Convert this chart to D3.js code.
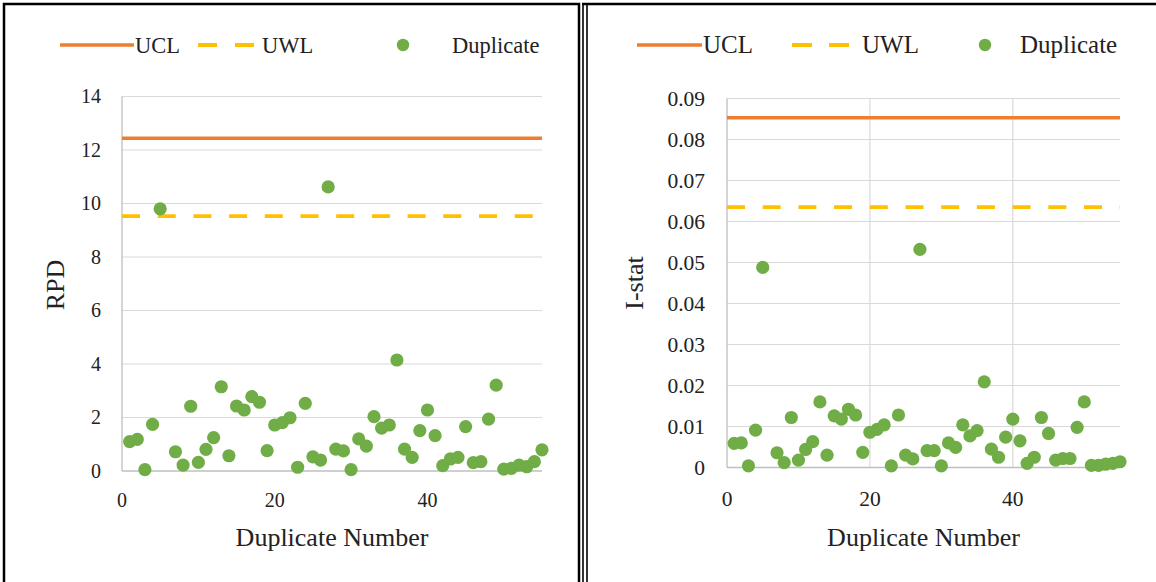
<!DOCTYPE html>
<html>
<head>
<meta charset="utf-8">
<script src="https://cdn.jsdelivr.net/npm/d3@7"></script>
<style>
  html, body { margin: 0; padding: 0; background: #fff; }
  svg { display: block; }
  svg text { font-family: "Liberation Serif", "Times New Roman", serif; fill: #222; }
</style>
</head>
<body>
<svg id="chart" width="1156" height="582"></svg>
<script>
// Duplicate numbers (duplicate 6 has no result)
const duplicateNumbers = [1,2,3,4,5,7,8,9,10,11,12,13,14,15,16,17,18,19,20,21,22,23,24,25,26,27,28,29,30,
  31,32,33,34,35,36,37,38,39,40,41,42,43,44,45,46,47,48,49,50,51,52,53,54,55];

// Relative percent difference of each duplicate pair
const rpdValues = [1.10,1.18,0.05,1.74,9.80,0.72,0.22,2.42,0.32,0.81,1.25,3.15,0.57,2.43,2.28,2.78,2.57,
  0.76,1.72,1.81,1.99,0.14,2.53,0.53,0.41,10.62,0.82,0.75,0.05,1.20,0.93,2.03,1.60,1.72,4.15,0.82,0.51,
  1.51,2.28,1.32,0.20,0.45,0.51,1.66,0.31,0.35,1.94,3.21,0.07,0.10,0.22,0.16,0.35,0.79];

// I-statistic of each duplicate pair
const istatValues = [0.0059,0.0060,0.0004,0.0091,0.0488,0.0036,0.0012,0.0122,0.0018,0.0044,0.0063,0.0160,
  0.0030,0.0126,0.0118,0.0142,0.0128,0.0037,0.0086,0.0093,0.0104,0.0004,0.0128,0.0030,0.0021,0.0532,
  0.0041,0.0041,0.0004,0.0060,0.0049,0.0104,0.0077,0.0090,0.0209,0.0045,0.0025,0.0074,0.0118,0.0065,
  0.0010,0.0025,0.0122,0.0083,0.0018,0.0022,0.0022,0.0098,0.0160,0.0005,0.0005,0.0008,0.0010,0.0014];

// Control limits
const rpdLimits = { ucl: 12.44, uwl: 9.53 };
const istatLimits = { ucl: 0.0853, uwl: 0.0635 };

// Axis ticks
const xTickValues = [0, 20, 40];
const rpdTickValues = [0, 2, 4, 6, 8, 10, 12, 14];
const istatTickValues = [0, 0.01, 0.02, 0.03, 0.04, 0.05, 0.06, 0.07, 0.08, 0.09];

const legendLabels = ["UCL", "UWL", "Duplicate"];

const COLORS = { ucl: "#ED7D31", uwl: "#FFC000", dot: "#70AD47", grid: "#d9d9d9", axis: "#bfbfbf" };

const svg = d3.select("#chart");

// Panel frames
svg.append("rect").attr("x", 4).attr("y", 4).attr("width", 575).attr("height", 600)
  .attr("fill", "none").attr("stroke", "#000").attr("stroke-width", 2.5);
svg.append("line").attr("x1", 583).attr("x2", 583).attr("y1", 3).attr("y2", 600)
  .attr("stroke", "#000").attr("stroke-width", 1.6);
svg.append("line").attr("x1", 587).attr("x2", 587).attr("y1", 3).attr("y2", 600)
  .attr("stroke", "#000").attr("stroke-width", 1.6);
svg.append("line").attr("x1", 582).attr("x2", 1160).attr("y1", 4).attr("y2", 4)
  .attr("stroke", "#000").attr("stroke-width", 2.5);

function drawPanel(cfg) {
  const g = svg.append("g");
  const x = d3.scaleLinear().domain([0, 55]).range([cfg.left, cfg.right]);
  const y = d3.scaleLinear().domain([0, cfg.yMax]).range([cfg.bottom, cfg.top]);

  // horizontal gridlines
  g.append("g").selectAll("line").data(cfg.yTicks.filter(d => d > 0)).join("line")
    .attr("x1", cfg.left).attr("x2", cfg.right)
    .attr("y1", d => y(d)).attr("y2", d => y(d))
    .attr("stroke", COLORS.grid).attr("stroke-width", 1.2);

  // vertical gridlines
  if (cfg.vGrid) {
    g.append("g").selectAll("line").data(xTickValues.filter(d => d > 0)).join("line")
      .attr("x1", d => x(d)).attr("x2", d => x(d))
      .attr("y1", cfg.top).attr("y2", cfg.bottom)
      .attr("stroke", COLORS.grid).attr("stroke-width", 1.2);
  }

  // axis lines
  g.append("line").attr("x1", cfg.left).attr("x2", cfg.left)
    .attr("y1", cfg.top).attr("y2", cfg.bottom).attr("stroke", COLORS.axis).attr("stroke-width", 1.3);
  g.append("line").attr("x1", cfg.left).attr("x2", cfg.right)
    .attr("y1", cfg.bottom).attr("y2", cfg.bottom).attr("stroke", COLORS.axis).attr("stroke-width", 1.3);

  // tick labels
  g.append("g").selectAll("text").data(cfg.yTicks).join("text")
    .attr("x", cfg.left - cfg.yPad).attr("y", d => y(d)).attr("dy", "0.34em")
    .attr("text-anchor", "end")
    .style("font-size", cfg.tickSize + "px")
    .text(cfg.yFormat);
  g.append("g").selectAll("text").data(xTickValues).join("text")
    .attr("x", d => x(d)).attr("y", cfg.bottom + cfg.xPad)
    .attr("text-anchor", "middle")
    .style("font-size", cfg.tickSize + "px")
    .text(d3.format("d"));

  // control limits
  g.append("line").attr("x1", cfg.left).attr("x2", cfg.right)
    .attr("y1", y(cfg.limits.ucl)).attr("y2", y(cfg.limits.ucl))
    .attr("stroke", COLORS.ucl).attr("stroke-width", 3.5);
  g.append("line").attr("x1", cfg.left).attr("x2", cfg.right)
    .attr("y1", y(cfg.limits.uwl)).attr("y2", y(cfg.limits.uwl))
    .attr("stroke", COLORS.uwl).attr("stroke-width", 3.8).attr("stroke-dasharray", "18,17.7");

  // duplicate points
  g.append("g").selectAll("circle").data(cfg.values).join("circle")
    .attr("cx", (d, i) => x(duplicateNumbers[i]))
    .attr("cy", d => y(d))
    .attr("r", 6.6)
    .attr("fill", COLORS.dot);

  // axis titles
  g.append("text").attr("x", (cfg.left + cfg.right) / 2).attr("y", cfg.xTitleY)
    .attr("text-anchor", "middle").style("font-size", cfg.titleSize + "px").text("Duplicate Number");
  g.append("text")
    .attr("transform", `translate(${cfg.yTitleX},${cfg.yTitleY}) rotate(-90)`)
    .attr("text-anchor", "middle").style("font-size", cfg.titleSize + "px").text(cfg.yTitle);

  // legend
  const L = cfg.legend;
  const lg = g.append("g");
  lg.append("line").attr("x1", L.ucl[0]).attr("x2", L.ucl[1]).attr("y1", L.y).attr("y2", L.y)
    .attr("stroke", COLORS.ucl).attr("stroke-width", 3.5);
  lg.append("line").attr("x1", L.uwl[0]).attr("x2", L.uwl[1]).attr("y1", L.y).attr("y2", L.y)
    .attr("stroke", COLORS.uwl).attr("stroke-width", 3.8).attr("stroke-dasharray", L.dash);
  lg.append("circle").attr("cx", L.dot).attr("cy", L.y).attr("r", 6.2).attr("fill", COLORS.dot);
  lg.selectAll("text").data(legendLabels).join("text")
    .attr("x", (d, i) => L.text[i]).attr("y", L.y + 7.5)
    .style("font-size", L.size + "px").text(d => d);
}

drawPanel({
  left: 122, right: 542, top: 96.5, bottom: 471,
  yMax: 14, yTicks: rpdTickValues, yFormat: d3.format("d"),
  values: rpdValues, limits: rpdLimits, vGrid: false,
  tickSize: 20, yPad: 21, xPad: 36, titleSize: 26,
  xTitleY: 546, yTitle: "RPD", yTitleX: 64, yTitleY: 285,
  legend: { y: 45, size: 22.5, ucl: [60, 134], uwl: [198, 254], dash: "19,18", dot: 403,
            text: [135, 262, 452] }
});

drawPanel({
  left: 727, right: 1120, top: 98.5, bottom: 467.5,
  yMax: 0.09, yTicks: istatTickValues, yFormat: d => d === 0 ? "0" : d3.format(".2f")(d),
  values: istatValues, limits: istatLimits, vGrid: true,
  tickSize: 21.5, yPad: 22, xPad: 38, titleSize: 26,
  xTitleY: 546, yTitle: "I-stat", yTitleX: 643, yTitleY: 283,
  legend: { y: 45, size: 25, ucl: [637, 702], uwl: [792, 850], dash: "20,17", dot: 985,
            text: [703, 862, 1020] }
});
</script>
</body>
</html>
